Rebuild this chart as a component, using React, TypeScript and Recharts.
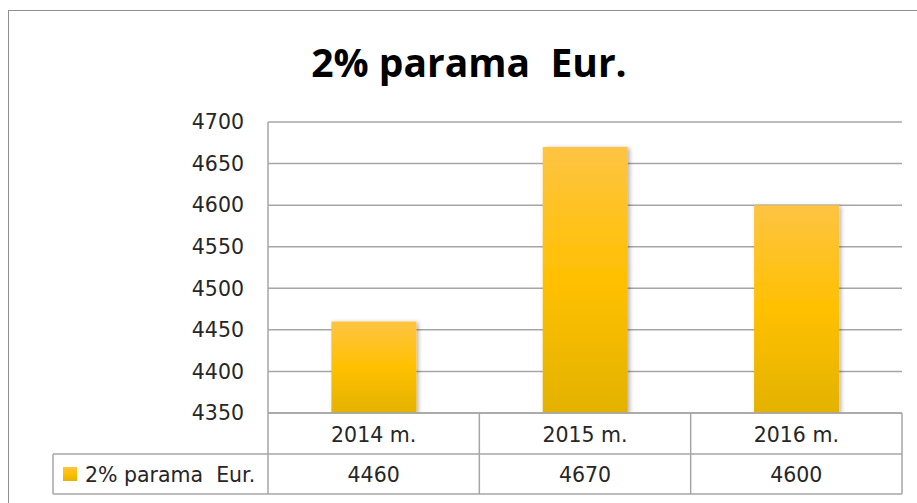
import React from "react";
import { BarChart, Bar, XAxis, YAxis, CartesianGrid, Customized } from "recharts";

// chart values
const categories = ["2014 m.", "2015 m.", "2016 m."];
const values = [4460, 4670, 4600];
const seriesName = "2% parama  Eur.";
const yTicks = [4350, 4400, 4450, 4500, 4550, 4600, 4650, 4700];
const title = "2% parama  Eur.";

const W = 917;
const H = 503;
const PLOT_LEFT = 268;
const PLOT_RIGHT = 902;
const PLOT_TOP = 122;
const PLOT_BOTTOM = 413;
const ROW_SPLIT = 454;
const TABLE_BOTTOM = 494;
const TABLE_LEFT = 53;
const BAND = (PLOT_RIGHT - PLOT_LEFT) / categories.length;

const GRID = "#a6a6a6";
const TEXT = "#262626";
const FONT = "'DejaVu Sans', sans-serif";

const data = categories.map((name, i) => ({ name, value: values[i] }));

function TableTick(props: any) {
  const { x, payload } = props;
  const i = payload.index;
  const right = x + BAND / 2;
  return (
    <g>
      <line x1={right} x2={right} y1={PLOT_BOTTOM} y2={TABLE_BOTTOM} stroke={GRID} strokeWidth={1.5} />
      <text x={x} y={442} textAnchor="middle" fontFamily={FONT} fontSize={20.5} fill={TEXT}>
        {categories[i]}
      </text>
      <text x={x} y={482} textAnchor="middle" fontFamily={FONT} fontSize={20.5} fill={TEXT}>
        {values[i]}
      </text>
    </g>
  );
}

function TableFrame() {
  return (
    <g>
      <text
        x={469}
        y={77}
        textAnchor="middle"
        fontFamily="'Open Sans', sans-serif"
        fontWeight="bold"
        fontSize={39}
        fill="#000"
        style={{ whiteSpace: "pre" }}
      >
        {title}
      </text>
      <line x1={PLOT_LEFT} x2={PLOT_LEFT} y1={PLOT_BOTTOM} y2={TABLE_BOTTOM} stroke={GRID} strokeWidth={1.5} />
      <line x1={TABLE_LEFT} x2={PLOT_RIGHT} y1={ROW_SPLIT} y2={ROW_SPLIT} stroke={GRID} strokeWidth={1.5} />
      <line x1={TABLE_LEFT} x2={PLOT_RIGHT} y1={TABLE_BOTTOM} y2={TABLE_BOTTOM} stroke={GRID} strokeWidth={1.5} />
      <line x1={TABLE_LEFT} x2={TABLE_LEFT} y1={ROW_SPLIT} y2={TABLE_BOTTOM} stroke={GRID} strokeWidth={1.5} />
      <rect x={63} y={467} width={14} height={14} fill="url(#barFill)" />
      <text
        x={85}
        y={482}
        fontFamily={FONT}
        fontSize={20.5}
        fill={TEXT}
        style={{ whiteSpace: "pre" }}
      >
        {seriesName}
      </text>
    </g>
  );
}

export default function App() {
  return (
    <div style={{ position: "absolute", left: 0, top: 0, width: W, height: H, background: "#fff", overflow: "hidden" }}>
      <div
        style={{
          position: "absolute",
          left: 8,
          top: 10,
          width: 940,
          height: 520,
          border: "1px solid #8f8f8f",
        }}
      />
      <div style={{ position: "absolute", left: 0, top: 0 }}>
        <BarChart
          width={W}
          height={H}
          data={data}
          margin={{ top: PLOT_TOP, right: W - PLOT_RIGHT, bottom: 0, left: PLOT_LEFT - 60 }}
          barCategoryGap="30%"
        >
          <defs>
            <linearGradient id="barFill" x1="0" y1="0" x2="0" y2="1">
              <stop offset="0%" stopColor="#fec443" />
              <stop offset="50%" stopColor="#ffc000" />
              <stop offset="100%" stopColor="#e3b200" />
            </linearGradient>
            <filter id="barShadow" x="-20%" y="-10%" width="140%" height="120%">
              <feDropShadow dx={2} dy={1} stdDeviation={2} floodColor="#000" floodOpacity={0.3} />
            </filter>
          </defs>
          <CartesianGrid vertical={false} stroke={GRID} strokeWidth={1.5} />
          <XAxis
            dataKey="name"
            interval={0}
            height={H - PLOT_BOTTOM}
            axisLine={{ stroke: GRID, strokeWidth: 1.5 }}
            tickLine={false}
            tick={<TableTick />}
          />
          <YAxis
            width={60}
            domain={[4350, 4700]}
            ticks={yTicks}
            allowDataOverflow
            axisLine={{ stroke: GRID, strokeWidth: 1.5 }}
            tickLine={false}
            tickMargin={18}
            tick={{ fontFamily: FONT, fontSize: 20.5, fill: TEXT }}
          />
          <Bar dataKey="value" fill="url(#barFill)" filter="url(#barShadow)" isAnimationActive={false} />
          <Customized component={TableFrame} />
        </BarChart>
      </div>
    </div>
  );
}
